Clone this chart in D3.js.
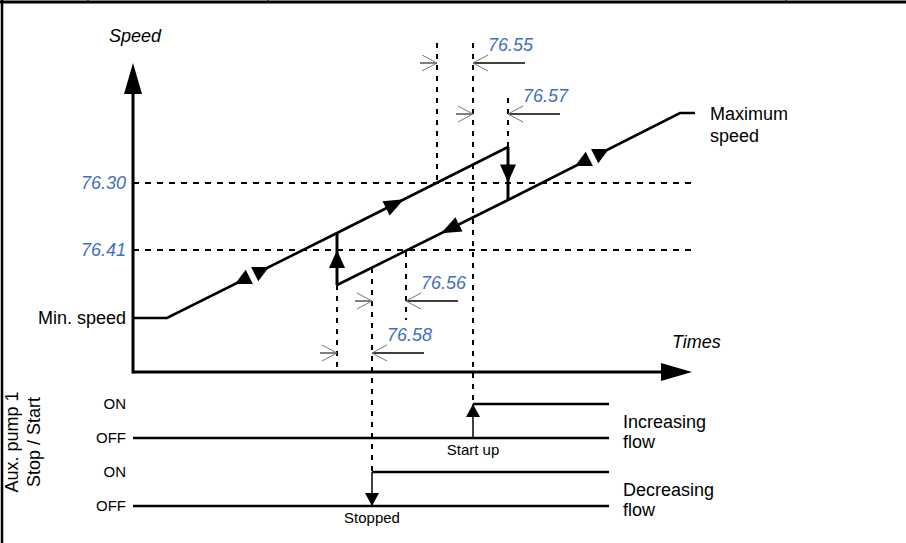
<!DOCTYPE html>
<html>
<head>
    <meta charset="utf-8">
    <title>Aux. pump stop / start</title>
    <script src="https://d3js.org/d3.v7.min.js"></script>
    <style>
        html, body {
            margin: 0;
            background: #fff;
        }
        text {
            font-family: "Liberation Sans", Arial, sans-serif;
        }
    </style>
</head>
<body>
    <svg id="svg"></svg>
    <script>
        // speed levels (arbitrary units) and their labels
        const levelLabels = ["76.30", "76.41"];
        const levelSpeeds = [18.9, 12.2];

        // speed curve, [time, speed]
        const risingPath = [[0, 5.4], [3.4, 5.4], [20.4, 13.9], [37.5, 22.5]];
        const fallingPath = [[20.4, 8.7], [37.5, 17.2], [54.7, 25.9], [56.2, 25.9]];

        // jumps of the speed when the pump changes state: [time, from, to]
        const jumps = [[20.4, 8.7, 13.9], [37.5, 22.5, 17.2]];

        // dashed guide lines
        const guideTimes = [20.4, 23.9, 27.3, 30.4, 34, 37.5];
        const guideTop = [8.7, 10.4, 12.0, 32.9, 32.9, 27.4];
        const guideBottom = [0, "decOn", 5.2, 18.9, "incOn", 22.5];

        // delay parameters
        const delayLabels = ["76.55", "76.57", "76.56", "76.58"];
        const delayFrom = [30.4, 34, 23.9, 20.4];
        const delayTo = [34, 37.5, 27.3, 23.9];
        const delayLevel = [30.9, 25.8, 7.1, 1.9];

        // pump signals
        const signalKeys = ["incOn", "incOff", "decOn", "decOff"];
        const signalNames = ["ON", "OFF", "ON", "OFF"];
        const switchTimes = [34, 23.9];
        const flowLabels = [["Increasing", "flow"], ["Decreasing", "flow"]];
        const eventLabels = ["Start up", "Stopped"];
        const signalEnd = 47.6;

        const width = 906, height = 543;
        const black = "#000";
        const blue = "#3f6fc2";

        const svg = d3.select("#svg")
        .attr("width", width)
        .attr("height", height);

        const x = d3.scaleLinear().domain([0, 56]).range([133, 693]);
        const y = d3.scaleLinear().domain([0, 31]).range([372, 62]);
        const sy = d3.scalePoint().domain(signalKeys).range([404, 506]);

        const line = d3.line().x(d => x(d[0])).y(d => y(d[1]));

        // frame
        svg.append("line").attr("x1", 0).attr("x2", width).attr("y1", 2).attr("y2", 2)
        .attr("stroke", black).attr("stroke-width", 3);
        svg.append("line").attr("x1", 2).attr("x2", 2).attr("y1", 0).attr("y2", height)
        .attr("stroke", black).attr("stroke-width", 2.5);
        [88, 268, 786].forEach(px => {
            svg.append("line").attr("x1", px).attr("x2", px).attr("y1", 0).attr("y2", 3)
            .attr("stroke", black).attr("stroke-width", 1);
        });

        // dashed level lines
        levelSpeeds.forEach((s, i) => {
            svg.append("line")
            .attr("x1", x(0)).attr("x2", x(56.2))
            .attr("y1", y(s)).attr("y2", y(s))
            .attr("stroke", black).attr("stroke-width", 2)
            .attr("stroke-dasharray", "6,6");
            svg.append("text")
            .attr("x", 126).attr("y", y(s)).attr("dy", "0.35em")
            .attr("text-anchor", "end")
            .attr("font-size", 18).attr("font-style", "italic")
            .attr("fill", blue)
            .text(levelLabels[i]);
        });

        // dashed guide lines
        guideTimes.forEach((t, i) => {
            const b = guideBottom[i];
            svg.append("line")
            .attr("x1", x(t)).attr("x2", x(t))
            .attr("y1", y(guideTop[i]))
            .attr("y2", typeof b === "string" ? sy(b) : y(b))
            .attr("stroke", black).attr("stroke-width", 2)
            .attr("stroke-dasharray", "5,6");
        });

        // axes
        svg.append("line").attr("x1", x(0)).attr("x2", x(0)).attr("y1", y(0) + 1.5).attr("y2", y(29))
        .attr("stroke", black).attr("stroke-width", 3);
        svg.append("line").attr("x1", x(0)).attr("x2", x(54)).attr("y1", y(0)).attr("y2", y(0))
        .attr("stroke", black).attr("stroke-width", 3);
        svg.append("path")
        .attr("d", `M${x(0)},${y(30.9)} L${x(0) - 9},${y(27.8)} L${x(0) + 9},${y(27.8)} Z`)
        .attr("fill", black);
        svg.append("path")
        .attr("d", `M${x(55.9)},${y(0)} L${x(52.8)},${y(0) - 9} L${x(52.8)},${y(0) + 9} Z`)
        .attr("fill", black);

        svg.append("text").attr("x", 109).attr("y", 42)
        .attr("font-size", 18).attr("font-style", "italic").text("Speed");
        svg.append("text").attr("x", 672).attr("y", 348)
        .attr("font-size", 18).attr("font-style", "italic").text("Times");

        // speed curve
        [risingPath, fallingPath].forEach(p => {
            svg.append("path")
            .attr("d", line(p))
            .attr("fill", "none")
            .attr("stroke", black).attr("stroke-width", 2.6);
        });

        // triangle helper: tip at (tx, ty), pointing along angle a
        function triangle(tx, ty, a, len, half) {
            const bx = tx - len * Math.cos(a), by = ty - len * Math.sin(a);
            const nx = -Math.sin(a) * half, ny = Math.cos(a) * half;
            return `M${tx},${ty} L${bx + nx},${by + ny} L${bx - nx},${by - ny} Z`;
        }

        function pointOn(path, t) {
            for (let i = 1; i < path.length; i++) {
                const a = path[i - 1], b = path[i];
                if (t >= a[0] && t <= b[0]) {
                    const f = (t - a[0]) / (b[0] - a[0]);
                    const px = x(t), py = y(a[1] + f * (b[1] - a[1]));
                    const ang = Math.atan2(y(b[1]) - y(a[1]), x(b[0]) - x(a[0]));
                    return [px, py, ang];
                }
            }
        }

        // single direction arrows
        [[risingPath, 26.2, 1], [fallingPath, 31.7, -1]].forEach(([p, t, dir]) => {
            const [px, py, ang] = pointOn(p, t);
            const a = dir > 0 ? ang : ang + Math.PI;
            svg.append("path")
            .attr("d", triangle(px + 10 * Math.cos(a), py + 10 * Math.sin(a), a, 20, 8))
            .attr("fill", black);
        });

        // double arrows
        [[risingPath, 11.9], [fallingPath, 45.9]].forEach(([p, t]) => {
            const [px, py, ang] = pointOn(p, t);
            svg.append("line")
            .attr("x1", px - 4 * Math.cos(ang)).attr("y1", py - 4 * Math.sin(ang))
            .attr("x2", px + 4 * Math.cos(ang)).attr("y2", py + 4 * Math.sin(ang))
            .attr("stroke", "#fff").attr("stroke-width", 5);
            [ang, ang + Math.PI].forEach(a => {
                svg.append("path")
                .attr("d", triangle(px + 19 * Math.cos(a), py + 19 * Math.sin(a), a, 16, 8))
                .attr("fill", black);
            });
        });

        // jumps
        jumps.forEach(([t, s0, s1]) => {
            svg.append("line")
            .attr("x1", x(t)).attr("x2", x(t))
            .attr("y1", y(s0)).attr("y2", y(s1))
            .attr("stroke", black).attr("stroke-width", 3);
            const mid = y((s0 + s1) / 2);
            const a = s1 > s0 ? -Math.PI / 2 : Math.PI / 2;
            svg.append("path")
            .attr("d", triangle(x(t), mid + 9 * Math.sin(a), a, 18, 8))
            .attr("fill", black);
        });

        // end labels
        svg.append("text").attr("x", 126).attr("y", y(risingPath[0][1])).attr("dy", "0.35em")
        .attr("text-anchor", "end").attr("font-size", 18).text("Min. speed");
        const maxEnd = fallingPath[fallingPath.length - 1];
        svg.append("text").attr("x", 710).attr("y", y(maxEnd[1]) + 7)
        .attr("font-size", 18).text("Maximum");
        svg.append("text").attr("x", 710).attr("y", y(maxEnd[1]) + 29)
        .attr("font-size", 18).text("speed");

        // delay dimension arrows
        function chevron(tx, ty, dir) {
            svg.append("path")
            .attr("d", `M${tx + dir * 15},${ty - 8} L${tx},${ty} L${tx + dir * 15},${ty + 8}`)
            .attr("fill", "none").attr("stroke", "#777").attr("stroke-width", 1);
        }
        delayLabels.forEach((lab, i) => {
            const yy = y(delayLevel[i]);
            const x1 = x(delayFrom[i]), x2 = x(delayTo[i]);
            svg.append("line").attr("x1", x1 - 17).attr("x2", x1).attr("y1", yy).attr("y2", yy)
            .attr("stroke", black).attr("stroke-width", 1);
            chevron(x1, yy, -1);
            svg.append("line").attr("x1", x2).attr("x2", x2 + 52).attr("y1", yy).attr("y2", yy)
            .attr("stroke", black).attr("stroke-width", 1.3);
            chevron(x2, yy, 1);
            svg.append("text")
            .attr("x", x2 + 15).attr("y", yy - 12)
            .attr("font-size", 18).attr("font-style", "italic")
            .attr("fill", blue)
            .text(lab);
        });

        // signals
        signalKeys.forEach((k, i) => {
            svg.append("text")
            .attr("x", 126).attr("y", sy(k)).attr("dy", "0.35em")
            .attr("text-anchor", "end").attr("font-size", 15)
            .text(signalNames[i]);
        });
        ["incOff", "decOff"].forEach(k => {
            svg.append("line").attr("x1", x(0)).attr("x2", x(signalEnd))
            .attr("y1", sy(k)).attr("y2", sy(k))
            .attr("stroke", black).attr("stroke-width", 2.5);
        });
        [["incOn", "incOff"], ["decOn", "decOff"]].forEach(([on, off], i) => {
            const t = switchTimes[i];
            svg.append("line").attr("x1", x(t)).attr("x2", x(signalEnd))
            .attr("y1", sy(on)).attr("y2", sy(on))
            .attr("stroke", black).attr("stroke-width", 2.5);
            svg.append("line").attr("x1", x(t)).attr("x2", x(t))
            .attr("y1", sy(on)).attr("y2", sy(off))
            .attr("stroke", black).attr("stroke-width", 1.5);
            const tipY = i === 0 ? sy(on) : sy(off);
            const a = i === 0 ? -Math.PI / 2 : Math.PI / 2;
            svg.append("path")
            .attr("d", triangle(x(t), tipY, a, 13, 7))
            .attr("fill", black);
            svg.append("text").attr("x", x(t)).attr("y", sy(off) + 17)
            .attr("text-anchor", "middle").attr("font-size", 15)
            .text(eventLabels[i]);
            flowLabels[i].forEach((w, j) => {
                svg.append("text").attr("x", 623).attr("y", sy(on) + 24 + j * 20)
                .attr("font-size", 18).text(w);
            });
        });

        // rotated axis title
        const rot = svg.append("g").attr("transform", "translate(0,442) rotate(-90)");
        rot.append("text").attr("x", 0).attr("y", 18)
        .attr("text-anchor", "middle").attr("font-size", 18).text("Aux. pump 1");
        rot.append("text").attr("x", 0).attr("y", 40)
        .attr("text-anchor", "middle").attr("font-size", 18).text("Stop / Start");
    </script>
</body>
</html>
